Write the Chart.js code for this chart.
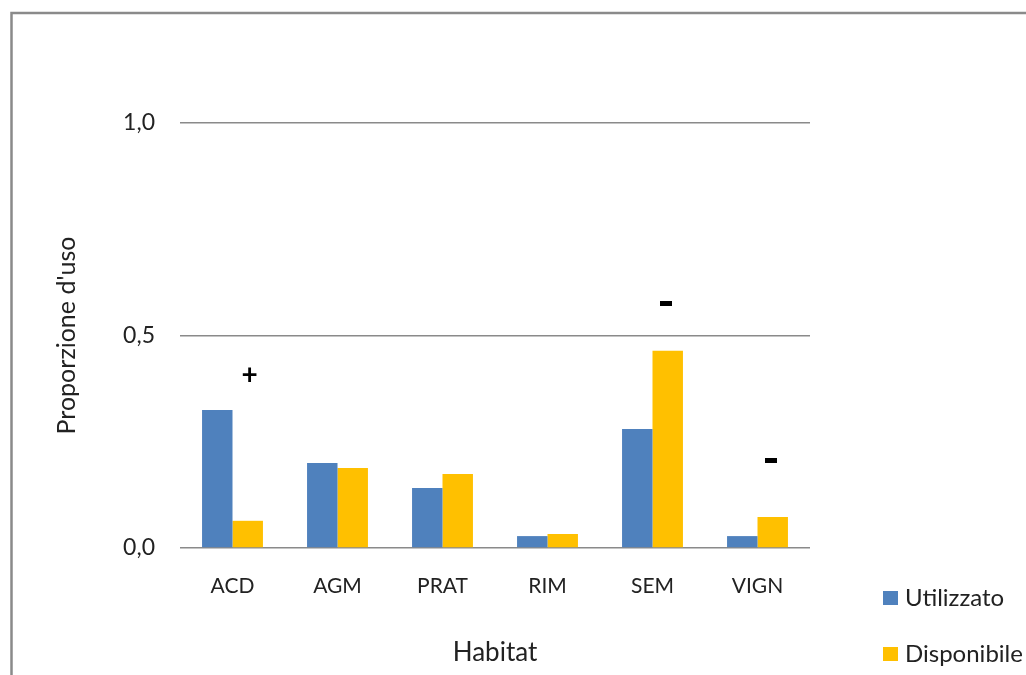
<!DOCTYPE html>
<html>
<head>
<meta charset="utf-8">
<script src="https://cdn.jsdelivr.net/npm/chart.js@4/dist/chart.umd.min.js"></script>
<style>
  html, body { margin: 0; padding: 0; background: #fff; }
  #wrap { width: 1026px; height: 675px; }
</style>
</head>
<body>
<div id="wrap"><canvas id="chart" width="1026" height="675"></canvas></div>
<script>
// habitat categories and the two series (proportions)
var habitats = ['ACD', 'AGM', 'PRAT', 'RIM', 'SEM', 'VIGN'];
var utilizzato = [0.325, 0.200, 0.141, 0.028, 0.280, 0.028];
var disponibile = [0.064, 0.188, 0.174, 0.033, 0.464, 0.073];

// significance marks above the bars, and the level they sit at
var signs = ['+', '', '', '', '-', '-'];
var signLevel = [0.407, 0, 0, 0, 0.576, 0.207];

var yTicks = [0, 0.5, 1.0];

Chart.defaults.font.family = 'Lato, "Open Sans", sans-serif';
Chart.defaults.color = '#222';

// grey frame around the picture (top and left edge)
var framePlugin = {
  id: 'frame',
  beforeDraw: function(chart) {
    var ctx = chart.ctx;
    ctx.save();
    ctx.fillStyle = '#fff';
    ctx.fillRect(0, 0, chart.width, chart.height);
    ctx.strokeStyle = '#8a8a8a';
    ctx.lineWidth = 2.5;
    ctx.beginPath();
    ctx.moveTo(11.5, chart.height);
    ctx.lineTo(11.5, 13);
    ctx.lineTo(chart.width, 13);
    ctx.stroke();
    ctx.restore();
  }
};

// + / - marks placed over the Disponibile bars
var signPlugin = {
  id: 'signs',
  afterDatasetsDraw: function(chart) {
    var ctx = chart.ctx;
    var meta = chart.getDatasetMeta(1);
    var y = chart.scales.y;
    ctx.save();
    ctx.fillStyle = '#000';
    ctx.textAlign = 'center';
    ctx.textBaseline = 'middle';
    for (var i = 0; i < signs.length; i++) {
      if (!signs[i]) continue;
      var px = meta.data[i].x;
      var py = y.getPixelForValue(signLevel[i]);
      if (signs[i] === '-') {
        // heavy dash like the original
        ctx.fillRect(Math.round(px - 8), Math.round(py - 2), 12, 5);
      } else {
        ctx.font = 'bold 28px Lato';
        ctx.fillText('+', px + 2, py);
      }
    }
    ctx.restore();
  }
};

// legend drawn at the lower right, as in the original
var legendPlugin = {
  id: 'sideLegend',
  afterDraw: function(chart) {
    var ctx = chart.ctx;
    var rows = [598, 654];
    ctx.save();
    ctx.font = '24px Lato';
    ctx.textBaseline = 'middle';
    ctx.textAlign = 'left';
    chart.data.datasets.forEach(function(ds, i) {
      ctx.fillStyle = ds.backgroundColor;
      ctx.fillRect(883, rows[i] - 7, 15, 14);
      ctx.fillStyle = '#222';
      ctx.fillText(ds.label, 905, rows[i]);
    });
    ctx.restore();
  }
};

new Chart(document.getElementById('chart'), {
  type: 'bar',
  data: {
    labels: habitats,
    datasets: [
      { label: 'Utilizzato', data: utilizzato, backgroundColor: '#4F81BD' },
      { label: 'Disponibile', data: disponibile, backgroundColor: '#FFC000' }
    ]
  },
  options: {
    responsive: false,
    animation: false,
    layout: { padding: { left: 52, top: 123, right: 216, bottom: 0 } },
    plugins: {
      legend: { display: false },
      tooltip: { enabled: false }
    },
    datasets: {
      bar: { categoryPercentage: 0.58, barPercentage: 1.0 }
    },
    scales: {
      x: {
        grid: { display: false },
        border: { display: false },
        ticks: { font: { size: 21 }, padding: 18, color: '#222' },
        title: { display: true, text: 'Habitat', font: { size: 26 }, color: '#222', padding: { top: 0, bottom: 7 } },
        afterFit: function(scale) { scale.height = 127; }
      },
      y: {
        min: 0,
        max: 1,
        afterBuildTicks: function(scale) {
          scale.ticks = yTicks.map(function(v) { return { value: v }; });
        },
        grid: { color: '#8a8a8a', lineWidth: 1.5, drawTicks: false },
        border: { display: false },
        ticks: {
          font: { size: 23 },
          padding: 25,
          color: '#222',
          callback: function(v) { return v.toFixed(1).replace('.', ','); }
        },
        title: { display: true, text: "Proporzione d'uso", font: { size: 25 }, color: '#222', padding: 0 },
        afterFit: function(scale) { scale.width = 128; }
      }
    }
  },
  plugins: [framePlugin, signPlugin, legendPlugin]
});
</script>
</body>
</html>
